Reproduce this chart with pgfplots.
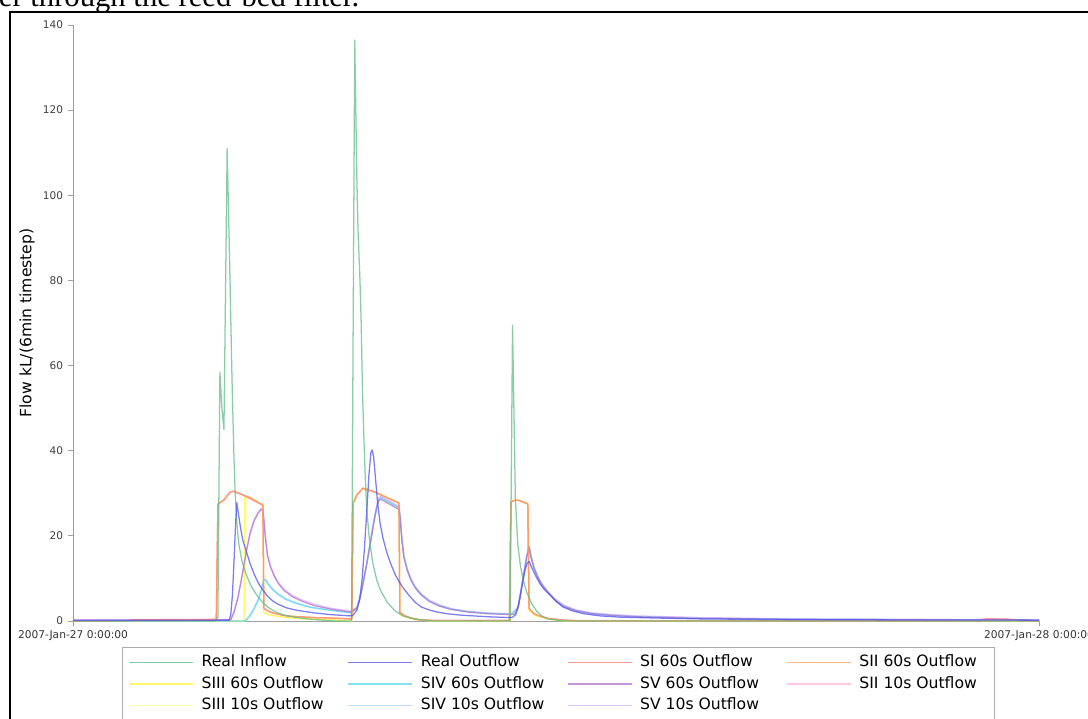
\documentclass[border=0pt]{standalone}
\usepackage{fontspec}
\setmainfont{DejaVu Sans}
\newfontfamily\timesfont{Liberation Serif}
\usepackage{pgfplots}
\pgfplotsset{compat=1.18}

\definecolor{cIn}{RGB}{95,188,135}
\definecolor{cOut}{RGB}{80,80,240}
\definecolor{cSI}{RGB}{255,115,115}
\definecolor{cSII}{RGB}{255,160,95}
\definecolor{cSIII}{RGB}{255,245,60}
\definecolor{cSIV}{RGB}{90,215,240}
\definecolor{cSV}{RGB}{178,115,205}
\definecolor{cSIIt}{RGB}{255,180,215}
\definecolor{cSIIIt}{RGB}{255,255,150}
\definecolor{cSIVt}{RGB}{175,210,255}
\definecolor{cSVt}{RGB}{215,170,255}

\begin{document}
\begin{tikzpicture}
\useasboundingbox (0,0) rectangle (816pt,538.5pt);
% page frame and cut-off caption line
\draw[black,line width=0.8pt] (7.5pt,-10pt) -- (7.5pt,529.5pt) -- (830pt,529.5pt);
\node[anchor=base west,inner sep=0pt,font=\timesfont\fontsize{23pt}{27pt}\selectfont] at (-1pt,533.25pt) {er through the reed-bed filter.};

\begin{axis}[
  at={(54.75pt,72.75pt)}, anchor=south west,
  scale only axis, width=724.5pt, height=447pt,
  xmin=0, xmax=24, ymin=0, ymax=140,
  axis lines=left,
  axis line style={-, draw=gray!75, line width=0.7pt},
  tick align=outside, major tick length=4pt,
  tick style={draw=gray!75, line width=0.6pt},
  xtick={0,24},
  xticklabels={2007-Jan-27 0:00:00, 2007-Jan-28 0:00:00},
  ytick={0,20,...,140},
  /pgf/number format/assume math mode=true,
  yticklabel style={font=\fontsize{7.9pt}{9pt}\selectfont, text=black!75},
  xticklabel style={font=\fontsize{8pt}{9pt}\selectfont, text=black!80},
  ylabel={Flow kL/(6min timestep)},
  every axis y label/.style={at={(axis description cs:-0.0476,0.5)}, rotate=90, anchor=center, font=\fontsize{11.7pt}{13pt}\selectfont},
  clip=false,
  every axis plot/.append style={line width=0.95pt, opacity=0.75, line join=round},
  legend columns=4,
  legend cell align=left,
  legend image code/.code={\draw[#1, line width=0.95pt] (0pt,0pt) -- (48pt,0pt);},
  legend style={at={(0.0507,-0.0436)}, anchor=north west, draw=gray!65, line width=0.6pt,
    font=\fontsize{11.7pt}{13pt}\selectfont, inner xsep=4.5pt, inner ysep=3.5pt,
    column sep=0pt, row sep=0pt,
    nodes={inner xsep=6pt, inner ysep=2.4pt, text height=8.6pt, text depth=2.6pt}},
]

% light 10s series underneath
\addplot[forget plot, cSIIIt] coordinates {(0,0)(4.28,0)(4.30,29.2)(4.4,29)(4.72,27.2)(4.74,2)(4.85,1.5)(5.14,1)(5.57,0.6)(6.39,0.3)(6.92,0)(6.95,27.7)(7.05,29.6)(7.2,31.2)(7.5,30.3)(8.1,27.7)(8.12,1.5)(8.37,0.6)(8.6,0.2)(9,0)(10.86,0)(10.88,28)(11.0,28.4)(11.1,28.3)(11.3,27.5)(11.33,2.5)(11.5,1.2)(11.8,0.5)(12.2,0)(24,0)};
\addplot[forget plot, cSIVt] coordinates {(0,0)(4.22,0)(4.30,0.4)(4.4,1.5)(4.5,3.1)(4.6,5.1)(4.68,7.5)(4.74,9.8)(4.78,9.9)(4.85,8.9)(4.95,7.7)(5.1,6.4)(5.3,5.2)(5.55,4.3)(5.9,3.3)(6.3,2.7)(6.9,2.0)(7.05,3.1)(7.12,5.1)(7.2,8.7)(7.3,13.8)(7.4,19.4)(7.48,24)(7.55,27.3)(7.6,28.9)(7.65,29.3)(8.1,26.9)(8.13,24.5)(8.17,19.5)(8.22,15.4)(8.3,12.3)(8.4,9.8)(8.5,8)(8.65,6.3)(8.85,4.8)(9.1,3.6)(9.4,2.8)(9.8,2.2)(10.3,1.8)(10.9,1.6)(11.05,3.1)(11.12,6.6)(11.2,11.2)(11.27,15.2)(11.33,17.6)(11.38,15.3)(11.45,12.8)(11.55,10.4)(11.65,8.7)(11.8,6.8)(12.0,4.8)(12.2,3.5)(12.5,2.5)(12.9,1.8)(13.4,1.4)(14,1.1)(15.6,0.7)(18,0.45)(24,0.25)};
\addplot[forget plot, cSVt] coordinates {(0,0.2)(3.92,0.3)(4.0,2.2)(4.1,5.8)(4.2,10.8)(4.3,16.3)(4.4,20.8)(4.5,23.8)(4.6,25.6)(4.67,26.4)(4.71,26.5)(4.74,24.3)(4.78,19.8)(4.83,15.8)(4.9,13.1)(5.0,10.8)(5.1,9.1)(5.25,7.4)(5.45,6.0)(5.7,4.9)(6.0,3.9)(6.4,3.0)(6.9,2.3)(7.05,3.2)(7.12,5.3)(7.2,8.8)(7.3,13.8)(7.4,19.3)(7.48,23.8)(7.55,27.1)(7.6,28.8)(7.65,29.2)(8.1,26.8)(8.13,24.3)(8.17,19.3)(8.22,15.3)(8.3,12.3)(8.4,9.8)(8.5,8.1)(8.65,6.4)(8.85,4.9)(9.1,3.8)(9.4,2.9)(9.8,2.3)(10.3,1.9)(10.9,1.7)(11.05,3.2)(11.12,6.8)(11.2,11.3)(11.27,15.3)(11.33,17.7)(11.38,15.3)(11.45,12.8)(11.55,10.5)(11.65,8.8)(11.8,6.9)(12.0,5.0)(12.2,3.7)(12.5,2.6)(12.9,1.9)(13.4,1.5)(14,1.2)(15.6,0.8)(18,0.5)(20.5,0.4)(24,0.3)};
\addplot[forget plot, cSIIt] coordinates {(0,0.1)(1.5,0.2)(3.0,0.3)(3.56,0.4)(3.60,27.4)(3.75,28.4)(3.90,30.2)(3.98,30.4)(4.1,30.0)(4.4,28.9)(4.72,27.1)(4.74,3)(4.8,2.6)(4.9,2.1)(5.0,1.8)(5.14,1.5)(5.3,1.2)(5.57,1.0)(6.0,0.8)(6.39,0.7)(6.88,0.5)(6.93,0.5)(6.96,27.6)(7.05,29.5)(7.2,31.1)(7.5,30.2)(8.1,27.6)(8.12,2)(8.25,1.2)(8.37,0.8)(8.6,0.3)(9,0.1)(10.84,0.1)(10.88,27.9)(11.0,28.3)(11.1,28.2)(11.3,27.4)(11.33,3)(11.42,2)(11.5,1.5)(11.65,1)(11.8,0.6)(12.2,0.2)(12.6,0.1)(22.4,0.1)(22.7,0.6)(23.2,0.5)(23.6,0.2)(24,0.1)};

% 60s series
\addplot[forget plot, cSIII] coordinates {(0,0)(4.25,0)(4.27,29.3)(4.4,29)(4.72,27.2)(4.74,2)(4.85,1.5)(5.14,1)(5.57,0.6)(6.39,0.3)(6.92,0)(6.95,27.7)(7.05,29.6)(7.2,31.2)(7.5,30.3)(8.1,27.7)(8.12,1.5)(8.37,0.6)(8.6,0.2)(9,0)(10.86,0)(10.88,28)(11.0,28.4)(11.1,28.3)(11.3,27.5)(11.33,2.5)(11.5,1.2)(11.8,0.5)(12.2,0)(24,0)};
\addplot[forget plot, cSIV] coordinates {(0,0)(4.25,0)(4.32,0.3)(4.4,1.2)(4.5,2.8)(4.6,4.8)(4.68,7.2)(4.74,9.5)(4.78,9.6)(4.85,8.6)(4.95,7.4)(5.1,6.2)(5.3,5.0)(5.55,4.1)(5.9,3.2)(6.3,2.6)(6.9,1.9)(7.05,2.9)(7.12,4.9)(7.2,8.4)(7.3,13.4)(7.4,18.8)(7.48,23.3)(7.55,26.7)(7.6,28.4)(7.65,28.9)(8.1,26.6)(8.13,24.2)(8.17,19.2)(8.22,15.2)(8.3,12.1)(8.4,9.6)(8.5,7.9)(8.65,6.2)(8.85,4.7)(9.1,3.6)(9.4,2.8)(9.8,2.2)(10.3,1.8)(10.9,1.6)(11.05,3)(11.12,6.3)(11.2,10.8)(11.27,14.7)(11.33,17)(11.38,14.8)(11.45,12.4)(11.55,10.1)(11.65,8.4)(11.8,6.6)(12.0,4.7)(12.2,3.4)(12.5,2.4)(12.9,1.7)(13.4,1.3)(14,1.0)(15.6,0.6)(18,0.4)(24,0.2)};
\addplot[forget plot, cSV] coordinates {(0,0.15)(3.92,0.3)(4.0,2)(4.1,5.5)(4.2,10.5)(4.3,16)(4.4,20.5)(4.5,23.5)(4.6,25.3)(4.67,26.1)(4.71,26.2)(4.74,24)(4.78,19.5)(4.83,15.5)(4.9,12.8)(5.0,10.5)(5.1,8.8)(5.25,7.1)(5.45,5.7)(5.7,4.6)(6.0,3.6)(6.4,2.8)(6.9,2.1)(7.05,3)(7.12,5)(7.2,8.5)(7.3,13.5)(7.4,19)(7.48,23.5)(7.55,26.8)(7.6,28.3)(7.65,28.6)(8.1,26.2)(8.13,24)(8.17,19)(8.22,15)(8.3,12)(8.4,9.5)(8.5,7.8)(8.65,6.1)(8.85,4.6)(9.1,3.5)(9.4,2.7)(9.8,2.1)(10.3,1.7)(10.9,1.5)(10.98,1.6)(11.05,3)(11.12,6.5)(11.2,11)(11.27,15)(11.33,17.4)(11.38,15)(11.45,12.5)(11.55,10.2)(11.65,8.5)(11.8,6.6)(12.0,4.7)(12.2,3.4)(12.5,2.4)(12.9,1.7)(13.4,1.3)(14,1.0)(15.6,0.6)(18,0.4)(20.5,0.3)(24,0.2)};
\addplot[forget plot, cSI] coordinates {(0,0)(1.4,0.05)(1.5,0.3)(3.0,0.35)(3.56,0.4)(3.60,27.5)(3.75,28.5)(3.90,30.3)(3.98,30.5)(4.1,30.1)(4.2,29.7)(4.72,27.2)(4.74,3)(4.8,2.6)(4.9,2.1)(5.0,1.8)(5.14,1.5)(5.3,1.2)(5.57,1.0)(6.0,0.8)(6.39,0.7)(6.88,0.5)(6.93,0.5)(6.96,27.7)(7.05,29.6)(7.2,31.2)(7.5,30.3)(8.1,27.7)(8.12,2)(8.25,1.2)(8.37,0.8)(8.6,0.3)(9,0.1)(10.84,0.1)(10.88,28)(11.0,28.4)(11.1,28.3)(11.3,27.5)(11.33,3)(11.42,2)(11.5,1.5)(11.65,1)(11.8,0.6)(12.2,0.2)(12.6,0)(22.5,0)(22.7,0.5)(23.2,0.4)(23.5,0.1)(24,0)};
\addplot[forget plot, cSII] coordinates {(0,0)(3.56,0.2)(3.60,27.4)(3.75,28.4)(3.90,30.2)(3.98,30.5)(4.1,30.1)(4.4,29)(4.72,27.2)(4.74,3)(4.8,2.6)(4.9,2.1)(5.0,1.8)(5.14,1.5)(5.3,1.2)(5.57,1.0)(6.0,0.8)(6.39,0.7)(6.88,0.5)(6.93,0.5)(6.96,27.7)(7.05,29.6)(7.2,31.2)(7.5,30.3)(8.1,27.7)(8.12,2)(8.25,1.2)(8.37,0.8)(8.6,0.3)(9,0.1)(10.84,0.1)(10.88,28)(11.0,28.4)(11.1,28.3)(11.3,27.5)(11.33,3)(11.42,2)(11.5,1.5)(11.65,1)(11.8,0.6)(12.2,0.2)(12.6,0)(24,0)};

% measured series on top
\addplot[forget plot, cIn] coordinates {(0,0)(3.55,0)(3.60,1)(3.65,58.5)(3.70,50)(3.75,45)(3.83,111)(3.89,85)(3.95,57)(4.0,38)(4.03,30)(4.07,23)(4.12,18)(4.2,14)(4.3,11)(4.42,8.3)(4.57,6)(4.72,4.3)(4.85,3.2)(5.0,2.3)(5.2,1.5)(5.5,0.9)(5.8,0.5)(6.2,0.2)(6.5,0)(6.92,0)(7.0,136.5)(7.05,105)(7.08,92)(7.13,80)(7.16,70)(7.19,55)(7.22,45)(7.26,34)(7.30,26)(7.36,19.5)(7.45,13.5)(7.55,9.5)(7.65,7)(7.8,4.5)(8.0,2.4)(8.2,1.2)(8.5,0.4)(9,0)(10.86,0)(10.92,69.5)(10.99,29)(11.05,18)(11.12,12.7)(11.2,9)(11.28,6.6)(11.4,4)(11.53,2.2)(11.65,1.2)(11.78,0.5)(12.2,0)(24,0)};
\addplot[forget plot, cOut] coordinates {(0,0.15)(3.85,0.15)(3.88,0.2)(3.92,1.5)(3.96,6)(4.0,14)(4.04,23)(4.07,27.8)(4.12,24.5)(4.17,21.5)(4.22,19)(4.3,16.5)(4.4,13.5)(4.5,11)(4.6,9)(4.7,7.5)(4.82,6)(4.95,4.8)(5.1,3.9)(5.3,3.1)(5.57,2.5)(6.0,1.9)(6.4,1.5)(6.88,1.2)(6.95,1.3)(7.05,2.5)(7.12,5)(7.18,9.5)(7.24,17)(7.30,26)(7.35,34)(7.40,39.5)(7.43,40.2)(7.47,38.5)(7.52,33)(7.57,27.5)(7.63,23)(7.70,19.5)(7.80,16)(7.90,13.3)(8.0,11)(8.1,9.3)(8.2,7.8)(8.35,6)(8.5,4.4)(8.65,3.3)(8.85,2.6)(9.05,2.1)(9.3,1.7)(9.6,1.4)(10.3,1.0)(10.86,0.8)(10.92,0.9)(11.0,1.5)(11.08,4)(11.15,8)(11.22,11.5)(11.28,13.5)(11.33,14)(11.4,12.5)(11.5,10.5)(11.6,8.8)(11.7,7.5)(11.85,6.2)(12.0,4.6)(12.17,3.3)(12.4,2.4)(12.7,1.7)(13.1,1.2)(13.6,0.9)(14.5,0.7)(15.6,0.5)(18,0.3)(24,0.2)};

% legend
\addlegendimage{cIn, opacity=0.75}\addlegendentry{\makebox[103.5pt][l]{Real Inflow}}
\addlegendimage{cOut, opacity=0.75}\addlegendentry{\makebox[103.5pt][l]{Real Outflow}}
\addlegendimage{cSI, opacity=0.75}\addlegendentry{\makebox[103.5pt][l]{SI 60s Outflow}}
\addlegendimage{cSII, opacity=0.75}\addlegendentry{\makebox[90.75pt][l]{SII 60s Outflow}}
\addlegendimage{cSIII, opacity=0.75}\addlegendentry{\makebox[103.5pt][l]{SIII 60s Outflow}}
\addlegendimage{cSIV, opacity=0.75}\addlegendentry{\makebox[103.5pt][l]{SIV 60s Outflow}}
\addlegendimage{cSV, opacity=0.75}\addlegendentry{\makebox[103.5pt][l]{SV 60s Outflow}}
\addlegendimage{cSIIt, opacity=0.75}\addlegendentry{\makebox[90.75pt][l]{SII 10s Outflow}}
\addlegendimage{cSIIIt, opacity=0.75}\addlegendentry{\makebox[103.5pt][l]{SIII 10s Outflow}}
\addlegendimage{cSIVt, opacity=0.75}\addlegendentry{\makebox[103.5pt][l]{SIV 10s Outflow}}
\addlegendimage{cSVt, opacity=0.75}\addlegendentry{\makebox[103.5pt][l]{SV 10s Outflow}}
\end{axis}
\end{tikzpicture}
\end{document}
